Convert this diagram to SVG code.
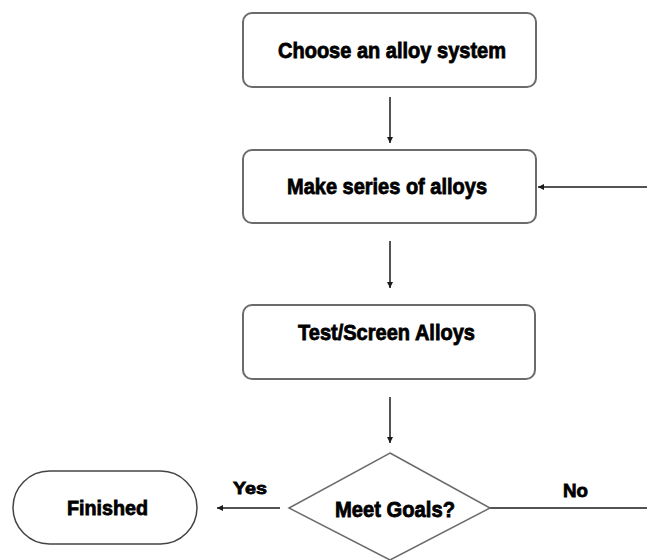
<svg xmlns="http://www.w3.org/2000/svg" width="647" height="560" viewBox="0 0 647 560">
  <style>
    .box { fill: #ffffff; stroke: #6b6b6b; stroke-width: 2; }
    .conn { fill: none; stroke: #1a1a1a; stroke-width: 1.5; }
    .lbl { font-family: "Liberation Sans", Arial, sans-serif; font-weight: bold; fill: #000; stroke: #000; stroke-width: 0.8; }
  </style>
  <defs>
    <marker id="ah" viewBox="0 0 10 10" refX="10" refY="5" markerWidth="6" markerHeight="6" markerUnits="userSpaceOnUse" orient="auto">
      <path d="M0,0 L10,5 L0,10 z" fill="#1a1a1a"/>
    </marker>
  </defs>
  <rect width="647" height="560" fill="#ffffff"/>

  <g id="connectors">
    <line class="conn" x1="390" y1="97" x2="390" y2="143" marker-end="url(#ah)"/>
    <line class="conn" x1="390" y1="241" x2="390" y2="288" marker-end="url(#ah)"/>
    <line class="conn" x1="390" y1="397" x2="390" y2="443" marker-end="url(#ah)"/>
    <line class="conn" x1="647" y1="187" x2="538" y2="187" marker-end="url(#ah)"/>
    <line class="conn" x1="280" y1="508" x2="217" y2="508" marker-end="url(#ah)"/>
    <line class="conn" x1="490" y1="508" x2="647" y2="508"/>
    <text class="lbl" x="233" y="494" font-size="17" textLength="34" lengthAdjust="spacingAndGlyphs">Yes</text>
    <text class="lbl" x="563" y="497" font-size="19" textLength="25" lengthAdjust="spacingAndGlyphs">No</text>
  </g>

  <g id="choose">
    <rect class="box" x="243" y="13" width="293" height="74" rx="9"/>
    <text class="lbl" x="278" y="58" font-size="22" textLength="228" lengthAdjust="spacingAndGlyphs">Choose an alloy system</text>
  </g>

  <g id="make">
    <rect class="box" x="243" y="150" width="293" height="73" rx="9"/>
    <text class="lbl" x="287" y="194" font-size="22" textLength="200" lengthAdjust="spacingAndGlyphs">Make series of alloys</text>
  </g>

  <g id="test">
    <rect class="box" x="243" y="305" width="292" height="74" rx="9"/>
    <text class="lbl" x="298" y="340" font-size="22" textLength="177" lengthAdjust="spacingAndGlyphs">Test/Screen Alloys</text>
  </g>

  <g id="meet">
    <polygon class="box" points="390,453 490,508 390,560 289,508" style="stroke-width:1.5"/>
    <text class="lbl" x="335" y="517" font-size="22" textLength="120" lengthAdjust="spacingAndGlyphs">Meet Goals?</text>
  </g>

  <g id="finished">
    <rect class="box" x="13" y="471" width="184" height="73" rx="36.5" style="stroke:#444;stroke-width:1.5"/>
    <text class="lbl" x="67" y="515" font-size="21" textLength="81" lengthAdjust="spacingAndGlyphs">Finished</text>
  </g>
</svg>
